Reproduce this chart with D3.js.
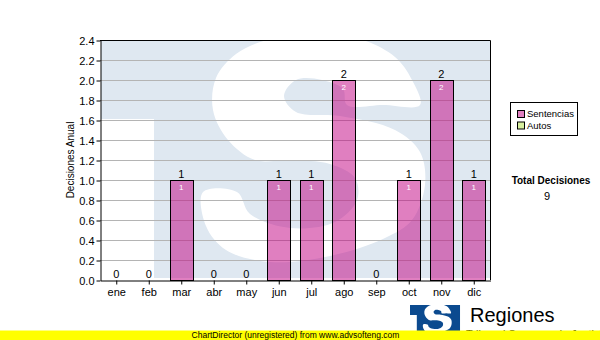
<!DOCTYPE html>
<html>
<head>
<meta charset="utf-8">
<script src="https://cdnjs.cloudflare.com/ajax/libs/d3/7.8.5/d3.min.js"></script>
<style>
body { margin: 0; background: #fff; }
svg { display: block; font-family: "Liberation Sans", Arial, sans-serif; }
</style>
</head>
<body>
<div id="chart"></div>
<script>
// data
let months = ["ene", "feb", "mar", "abr", "may", "jun", "jul", "ago", "sep", "oct", "nov", "dic"];
let sentencias = [0, 0, 1, 0, 0, 1, 1, 2, 0, 1, 2, 1];
let autos = [0, 0, 0, 0, 0, 0, 0, 0, 0, 0, 0, 0];
let seriesNames = ["Sentencias", "Autos"];
let yTicks = [0, 0.2, 0.4, 0.6, 0.8, 1.0, 1.2, 1.4, 1.6, 1.8, 2.0, 2.2, 2.4];

const WIDTH = 600, HEIGHT = 340;
const PLOT_LEFT = 100, PLOT_RIGHT = 490, PLOT_TOP = 40, PLOT_BOTTOM = 280;
const COLORS = ["rgba(193,0,129,0.5)", "rgba(176,224,64,0.5)"];
const WATERMARK_BLUE = "#dfe8f1";

// logo shapes, in plot pixels: the "T" block and the white "S" over it
const T_PATH = "M101,41H490V278H154V119H101Z";
const S_OUTLINE = [[203,192],[237,192],[250,214],[290,228],[335,222],[357,200],[355,178],[330,164],
    [290,160],[255,160],[228,140],[213,110],[216,78],[236,54],[270,39],[312,33],[360,39],[395,57],
    [412,80],[420,105],[383,105],[347,105],[343,89],[322,80],[296,80],[284,96],[296,112],[340,116],
    [395,130],[420,152],[425,185],[412,220],[385,238],[330,256],[270,262],[226,250],[206,226]];

let rows = months.map((m, i) => ({ month: m, Sentencias: sentencias[i], Autos: autos[i] }));
let stacked = d3.stack().keys(seriesNames)(rows);

let svg = d3.select("#chart")
    .append("svg")
    .attr("width", WIDTH)
    .attr("height", HEIGHT);

let x = d3.scaleBand()
    .domain(months)
    .range([PLOT_LEFT, PLOT_RIGHT])
    .paddingInner(0.292)
    .paddingOuter(0.146);

let y = d3.scaleLinear()
    .domain([0, 2.4])
    .range([PLOT_BOTTOM, PLOT_TOP]);

function drawLogo(g, tColor) {
    g.append("path").attr("fill", tColor).attr("d", T_PATH);
    g.append("path")
        .attr("fill", "#fff")
        .attr("d", d3.line().curve(d3.curveCatmullRomClosed.alpha(0.5))(S_OUTLINE));
}

// watermark behind the plot
svg.append("clipPath").attr("id", "plotClip")
    .append("rect")
    .attr("x", PLOT_LEFT + 1).attr("y", PLOT_TOP + 1)
    .attr("width", PLOT_RIGHT - PLOT_LEFT - 1).attr("height", PLOT_BOTTOM - PLOT_TOP - 3);

drawLogo(svg.append("g").attr("clip-path", "url(#plotClip)"), WATERMARK_BLUE);

// grid
svg.append("g")
    .selectAll("line")
    .data(yTicks.filter(d => d > 0 && d < 2.4))
    .join("line")
    .attr("x1", PLOT_LEFT).attr("x2", PLOT_RIGHT)
    .attr("y1", d => y(d) + 0.5).attr("y2", d => y(d) + 0.5)
    .attr("stroke", "#b4b4b4");

// bars
let layers = svg.append("g")
    .selectAll("g")
    .data(stacked)
    .join("g")
    .attr("fill", (d, i) => COLORS[i]);

layers.selectAll("rect")
    .data(d => d.filter(s => s[1] > s[0]))
    .join("rect")
    .attr("x", d => Math.round(x(d.data.month)) + 0.5)
    .attr("y", d => y(d[1]) + 0.5)
    .attr("width", Math.round(x.bandwidth()))
    .attr("height", d => y(d[0]) - y(d[1]))
    .attr("stroke", "#000");

// value inside each segment
layers.selectAll("text")
    .data(d => d.filter(s => s[1] > s[0]))
    .join("text")
    .attr("x", d => x(d.data.month) + x.bandwidth() / 2)
    .attr("y", d => y(d[1]) + 10)
    .attr("text-anchor", "middle")
    .attr("font-size", 8)
    .attr("fill", "#fff")
    .text(d => d[1] - d[0]);

// totals on top
svg.append("g")
    .selectAll("text")
    .data(rows)
    .join("text")
    .attr("x", d => x(d.month) + x.bandwidth() / 2)
    .attr("y", d => y(d.Sentencias + d.Autos) - 2.5)
    .attr("text-anchor", "middle")
    .attr("font-size", 11)
    .attr("fill", "#000")
    .text(d => d.Sentencias + d.Autos);

// axes
let yAxis = d3.axisLeft(y)
    .tickValues(yTicks)
    .tickFormat(d3.format(".1f"))
    .tickSize(4)
    .tickSizeOuter(0)
    .tickPadding(2);
svg.append("g")
    .attr("transform", `translate(${PLOT_LEFT + 0.5},0.5)`)
    .call(yAxis)
    .call(g => g.selectAll("text").attr("font-size", 11).attr("font-family", null).attr("fill", "#000"))
    .call(g => g.selectAll("line, path").attr("stroke", "#000"));

let xAxis = d3.axisBottom(x)
    .tickSize(4)
    .tickSizeOuter(0)
    .tickPadding(4);
svg.append("g")
    .attr("transform", `translate(0.5,${PLOT_BOTTOM + 0.5})`)
    .call(xAxis)
    .call(g => g.selectAll("text").attr("font-size", 11).attr("font-family", null).attr("fill", "#000"))
    .call(g => g.selectAll("line, path").attr("stroke", "#000"));

// top and right border
svg.append("path")
    .attr("d", `M${PLOT_LEFT},${PLOT_TOP + 0.5}H${PLOT_RIGHT + 0.5}V${PLOT_BOTTOM}`)
    .attr("fill", "none")
    .attr("stroke", "#000");

svg.append("text")
    .attr("transform", "translate(74,160) rotate(-90)")
    .attr("text-anchor", "middle")
    .attr("font-size", 10)
    .text("Decisiones Anual");

// legend
let legend = svg.append("g");
legend.append("rect")
    .attr("x", 510.5).attr("y", 102.5)
    .attr("width", 67).attr("height", 33)
    .attr("fill", "#fff").attr("stroke", "#000");
let items = legend.selectAll("g")
    .data(seriesNames)
    .join("g")
    .attr("transform", (d, i) => `translate(517,${110 + i * 11.5})`);
items.append("rect")
    .attr("x", 0.5).attr("y", 0.5)
    .attr("width", 7).attr("height", 7)
    .attr("fill", (d, i) => COLORS[i])
    .attr("stroke", "#000");
items.append("text")
    .attr("x", 10).attr("y", 7)
    .attr("font-size", 9.5)
    .text(d => d);

svg.append("text")
    .attr("x", 551).attr("y", 184)
    .attr("text-anchor", "middle")
    .attr("font-size", 10)
    .attr("font-weight", "bold")
    .text("Total Decisiones");
svg.append("text")
    .attr("x", 547).attr("y", 200)
    .attr("text-anchor", "middle")
    .attr("font-size", 11)
    .text(d3.sum(sentencias) + d3.sum(autos));

// small logo at the bottom, same drawing scaled down
drawLogo(svg.append("g").attr("transform", "translate(410,305) scale(0.1286) translate(-101,-41)"), "#0b4a8f");
svg.append("text")
    .attr("x", 470).attr("y", 322)
    .attr("font-size", 20)
    .text("Regiones");
svg.append("text")
    .attr("x", 466).attr("y", 338)
    .attr("font-size", 11)
    .text("Tribunal Supremo de Justicia");

// footer
svg.append("rect")
    .attr("x", 0).attr("y", 330.5)
    .attr("width", WIDTH).attr("height", 10)
    .attr("fill", "#ffff00");
svg.append("text")
    .attr("x", 295.5).attr("y", 338)
    .attr("text-anchor", "middle")
    .attr("font-size", 8.5)
    .text("ChartDirector (unregistered) from www.advsofteng.com");
</script>
</body>
</html>
